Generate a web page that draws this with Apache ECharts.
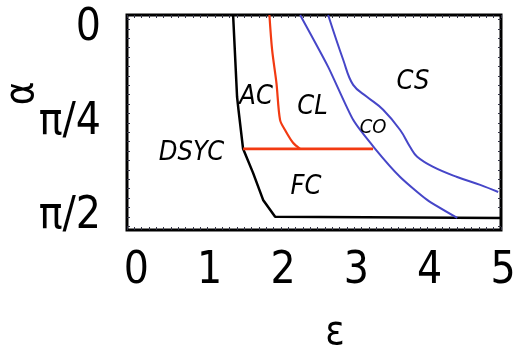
<!DOCTYPE html>
<html><head><meta charset="utf-8">
<script src="https://cdn.jsdelivr.net/npm/echarts@6/dist/echarts.min.js"></script>
<style>html,body{margin:0;padding:0;background:#fff}#c{width:517px;height:356px}</style>
</head><body><div id="c"></div>
<script>
// ε (x) and α/π (y) values
const xTicks = [0, 1, 2, 3, 4, 5];
const yTicks = [0, 0.25, 0.5];
const yTickLabels = ['0', 'π/4', 'π/2'];

const blackX = [1.347, 1.401, 1.42, 1.483, 1.619, 1.756, 1.92, 1.947, 5.0];
const blackY = [-0.037, 0.181, 0.215, 0.319, 0.383, 0.455, 0.500, 0.503, 0.503];

const redX = [1.842, 1.879, 1.938, 1.987, 2.055, 2.164, 2.26];
const redY = [-0.037, 0.056, 0.144, 0.242, 0.269, 0.303, 0.319];

const redHX = [1.483, 3.256];
const redHY = [0.319, 0.319];

const blueLX = [2.261, 2.643, 2.984, 3.284, 3.625, 3.993, 4.403];
const blueLY = [-0.037, 0.101, 0.242, 0.319, 0.394, 0.455, 0.503];

const blueRX = [2.643, 2.848, 2.984, 3.175, 3.393, 3.625, 3.761, 3.857, 4.075, 4.402, 4.716, 4.962];
const blueRY = [-0.037, 0.082, 0.149, 0.181, 0.215, 0.269, 0.314, 0.34, 0.367, 0.394, 0.415, 0.434];

const regionNames = ['AC', 'CL', 'CS', 'CO', 'DSYC', 'FC'];
const regionX = [1.66, 2.43, 3.80, 3.256, 0.78, 2.34];
const regionY = [0.181, 0.209, 0.14, 0.263, 0.331, 0.421];

const zip = (a, b) => a.map((v, i) => [v, b[i]]);
const FONT = "'Liberation Sans Narrow', 'DejaVu Sans Condensed', 'Liberation Sans', Arial, sans-serif";

const minorX = []; for (let i = -1; i <= 50; i++) minorX.push(+(i * 0.1).toFixed(2));
const minorY = []; for (let i = -1; i <= 21; i++) minorY.push(+(i * 0.025).toFixed(3));

const chart = echarts.init(document.getElementById('c'), null, {renderer: 'canvas'});
const tickStyle = {show: true, inside: true, length: 3, lineStyle: {color: '#334', width: 1}};
const noLine = {show: false, onZero: false};
chart.setOption({
  animation: false,
  grid: {left: 127, right: 16, top: 15, bottom: 126, outerBoundsMode: 'none', containLabel: false,
    show: true, borderColor: '#000', borderWidth: 3, backgroundColor: '#fff'},
  xAxis: [{
    type: 'value', min: -0.1, max: 5,
    name: 'ε', nameLocation: 'middle', nameGap: 84, nameMoveOverlap: false,
    nameTextStyle: {fontFamily: FONT, fontSize: 40, color: '#000', padding: [0, 0, 0, 42]},
    axisLine: noLine, splitLine: {show: false},
    axisTick: Object.assign({customValues: minorX}, tickStyle),
    axisLabel: {customValues: xTicks, margin: 20, fontFamily: FONT, fontSize: 44, color: '#000', padding: [0, 0, 0, 4]}
  }, {
    type: 'value', min: -0.1, max: 5, position: 'top',
    axisLine: noLine, splitLine: {show: false},
    axisTick: Object.assign({customValues: minorX}, tickStyle),
    axisLabel: {show: false}
  }],
  yAxis: [{
    type: 'value', min: -0.037, max: 0.535, inverse: true,
    name: 'α', nameLocation: 'middle', nameGap: 84, nameRotate: 90, nameMoveOverlap: false,
    nameTextStyle: {fontFamily: FONT, fontSize: 40, color: '#000', padding: [0, 0, 0, 58]},
    axisLine: noLine, splitLine: {show: false},
    axisTick: Object.assign({customValues: minorY}, tickStyle),
    axisLabel: {customValues: yTicks, margin: 26, fontFamily: FONT, fontSize: 44, color: '#000',
      formatter: v => yTickLabels[yTicks.indexOf(+v.toFixed(3))] ?? ''}
  }, {
    type: 'value', min: -0.037, max: 0.535, inverse: true, position: 'right',
    axisLine: noLine, splitLine: {show: false},
    axisTick: Object.assign({customValues: minorY}, tickStyle),
    axisLabel: {show: false}
  }],
  series: [
    {type: 'line', data: zip(blackX, blackY), showSymbol: false, lineStyle: {color: '#000', width: 2.5}},
    {type: 'line', data: zip(redX, redY), showSymbol: false, smooth: 0.3, lineStyle: {color: '#f23a12', width: 2.2}},
    {type: 'line', data: zip(redHX, redHY), showSymbol: false, lineStyle: {color: '#f23a12', width: 2.8}},
    {type: 'line', data: zip(blueLX, blueLY), showSymbol: false, smooth: 0.2, lineStyle: {color: '#4646c8', width: 2}},
    {type: 'line', data: zip(blueRX, blueRY), showSymbol: false, smooth: 0.4, lineStyle: {color: '#4646c8', width: 2}},
    {type: 'scatter', symbolSize: 0, silent: true, z: 10,
      data: regionNames.map((n, i) => ({name: n, value: [regionX[i], regionY[i]],
        label: {fontSize: n === 'CO' ? 20 : 27}})),
      label: {show: true, position: 'inside', formatter: p => p.name, fontFamily: FONT, fontStyle: 'italic',
        color: '#000', opacity: 1, textBorderWidth: 0}}
  ]
});
</script></body></html>
